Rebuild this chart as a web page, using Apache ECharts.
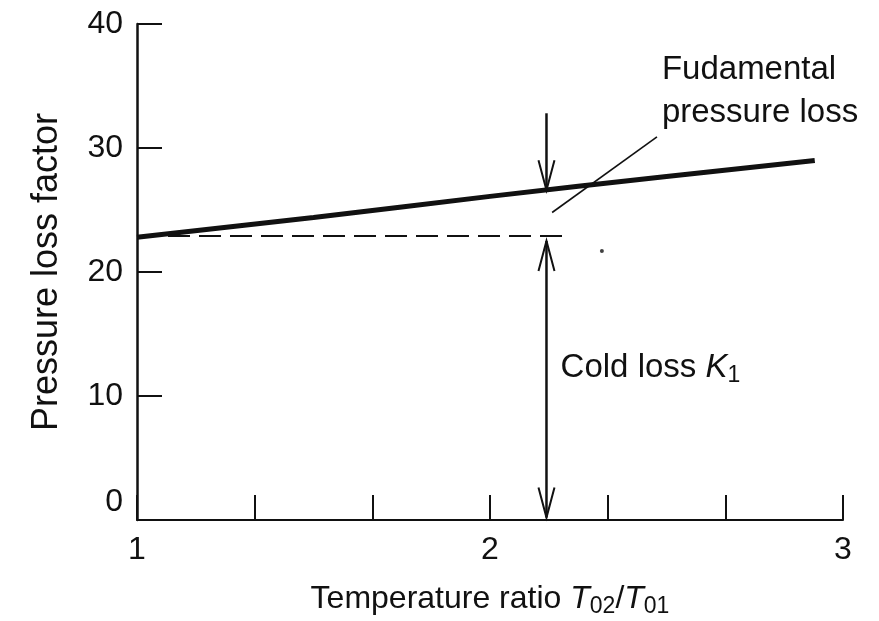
<!DOCTYPE html>
<html>
<head>
<meta charset="utf-8">
<script src="https://cdn.jsdelivr.net/npm/echarts@6/dist/echarts.min.js"></script>
<style>html,body{margin:0;padding:0;background:#fff}#c{width:879px;height:621px}</style>
</head>
<body>
<div id="c"></div>
<script>
// ---- data ----
const fundamentalX = [1.0, 1.5, 2.0, 2.5, 2.92];
const fundamentalY = [22.8, 24.4, 26.1, 27.7, 29.0];
const coldLossX = [1.0, 2.21];
const coldLossY = [22.9, 22.9];
const leaderX = [2.176, 2.473];
const leaderY = [24.8, 30.9];
const speckX = [2.317];
const speckY = [21.7];
// arrows: [x, yStart, yEnd, headAtStart, headAtEnd]
const arrowItems = [
  [2.16, 32.8, 26.6, 0, 1],
  [2.16, 22.5, 0.2, 1, 1]
];
// annotations: [x, y]
const annotationPos = [[2.487, 34.6], [2.20, 12.3]];
const annotationText = ['Fudamental\npressure loss', 'Cold loss {i|K}{s|1}'];
const yTickValues = [0, 10, 20, 30, 40];
const xTickLabels = [1, 2, 3];

const INK = '#111';
const FONT = "'Liberation Sans', Arial, Helvetica, sans-serif";

const zip = (a, b) => a.map((v, i) => [v, b[i]]);

const chart = echarts.init(document.getElementById('c'), null, {renderer: 'canvas'});
chart.setOption({
  backgroundColor: '#fff',
  animation: false,
  grid: {left: 137, right: 36, top: 24, bottom: 101, containLabel: false, outerBoundsMode: 'none'},
  xAxis: {
    type: 'value', min: 1, max: 3, interval: 1,
    axisLine: {show: true, lineStyle: {color: INK, width: 2}},
    axisTick: {show: true, inside: true, length: 25, lineStyle: {color: INK, width: 2}},
    minorTick: {show: true, splitNumber: 3, length: 25, lineStyle: {color: INK, width: 2}},
    splitLine: {show: false},
    axisLabel: {
      margin: 14, fontSize: 32, color: INK, fontFamily: FONT,
      formatter: v => xTickLabels.includes(Math.round(v)) ? String(Math.round(v)) : ''
    },
    name: 'Temperature ratio {i|T}{s|02}/{i|T}{s|01}',
    nameLocation: 'middle', nameGap: 61,
    nameTextStyle: {
      fontSize: 32, color: INK, fontFamily: FONT,
      rich: {
        i: {fontSize: 32, fontStyle: 'italic', color: INK, fontFamily: FONT},
        s: {fontSize: 23, color: INK, fontFamily: FONT, padding: [14, 0, 0, 0]}
      }
    }
  },
  yAxis: {
    type: 'value', min: 0, max: 40, interval: 10,
    axisLine: {show: true, lineStyle: {color: INK, width: 2.5}},
    axisTick: {show: true, inside: true, length: 25, lineStyle: {color: INK, width: 2}},
    splitLine: {show: false},
    axisLabel: {
      margin: 14, fontSize: 32, color: INK, fontFamily: FONT,
      formatter: v => yTickValues.includes(v) ? (v === 0 ? '{z|0}' : String(v)) : '',
      rich: {z: {fontSize: 32, color: INK, fontFamily: FONT, padding: [0, 0, 36, 0]}}
    },
    name: 'Pressure loss factor',
    nameLocation: 'middle', nameGap: 72,
    nameTextStyle: {fontSize: 36, color: INK, fontFamily: FONT}
  },
  series: [
    {
      type: 'line', data: zip(fundamentalX, fundamentalY), symbol: 'none', smooth: true,
      lineStyle: {color: INK, width: 5}, z: 5
    },
    {
      type: 'line', data: zip(coldLossX, coldLossY), symbol: 'none',
      lineStyle: {color: INK, width: 2, type: [22, 9]}
    },
    {
      type: 'line', data: zip(leaderX, leaderY), symbol: 'none',
      lineStyle: {color: INK, width: 1.6}
    },
    {
      type: 'scatter', data: zip(speckX, speckY), symbolSize: 4,
      itemStyle: {color: INK}
    },
    {
      type: 'custom', data: arrowItems, z: 6,
      renderItem: (params, api) => {
        const x = api.value(0);
        const p1 = api.coord([x, api.value(1)]);
        const p2 = api.coord([x, api.value(2)]);
        const children = [{
          type: 'line',
          shape: {x1: p1[0], y1: p1[1], x2: p2[0], y2: p2[1]},
          style: {stroke: INK, lineWidth: 2.5}
        }];
        const head = (tip, dir) => ({
          type: 'polyline',
          shape: {points: [[tip[0] - 8, tip[1] - dir * 30], [tip[0], tip[1]], [tip[0] + 8, tip[1] - dir * 30]]},
          style: {stroke: INK, lineWidth: 2, fill: null}
        });
        const down = p2[1] > p1[1] ? 1 : -1;
        if (api.value(3)) children.push(head(p1, -down));
        if (api.value(4)) children.push(head(p2, down));
        return {type: 'group', children};
      }
    },
    {
      type: 'custom', data: annotationPos, z: 7,
      renderItem: (params, api) => {
        const p = api.coord([api.value(0), api.value(1)]);
        return {
          type: 'text', x: p[0], y: p[1],
          style: {
            text: annotationText[params.dataIndex],
            fill: INK, fontSize: 33, fontFamily: FONT,
            align: 'left', verticalAlign: 'middle', lineHeight: 43,
            rich: {
              i: {fontSize: 33, fontStyle: 'italic', fill: INK, fontFamily: FONT},
              s: {fontSize: 23, fill: INK, fontFamily: FONT, padding: [16, 0, 0, 0]}
            }
          }
        };
      }
    }
  ]
});
</script>
</body>
</html>
